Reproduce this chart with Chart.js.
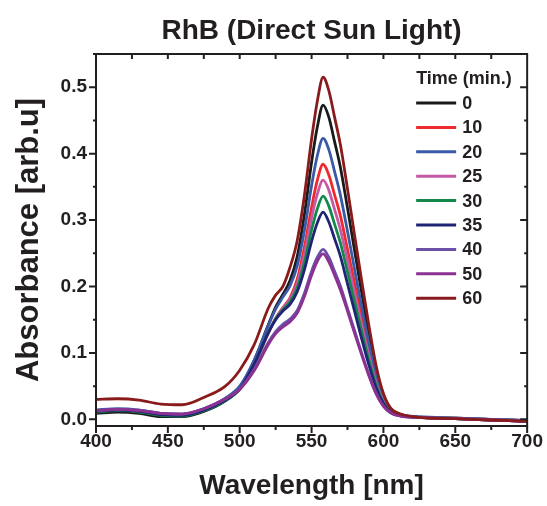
<!DOCTYPE html>
<html>
<head>
<meta charset="utf-8">
<title>RhB (Direct Sun Light)</title>
<script src="https://cdn.jsdelivr.net/npm/chart.js@4.4.1/dist/chart.umd.min.js"></script>
<style>
  html, body { margin: 0; padding: 0; background: #fff; }
  #wrap { width: 547px; height: 506px; }
</style>
</head>
<body>
<div id="wrap"><canvas id="absChart" width="547" height="506"></canvas></div>
<script>
// wavelength grid (nm) shared by every spectrum
const wavelength = [400, 415, 430, 445, 460, 475, 490, 500, 510, 520, 525, 530, 535, 540, 545, 550, 554, 558, 562, 566, 570, 575, 580, 585, 590, 595, 600, 605, 612, 625, 650, 675, 700];

// irradiation times (min.)
const times = ['0', '10', '20', '25', '30', '35', '40', '50', '60'];

// absorbance spectra, one per irradiation time
const abs0  = [0.009, 0.011, 0.009, 0.004, 0.004, 0.012, 0.028, 0.047, 0.088, 0.143, 0.169, 0.188, 0.209, 0.245, 0.308, 0.387, 0.440, 0.473, 0.455, 0.418, 0.380, 0.318, 0.253, 0.189, 0.126, 0.072, 0.035, 0.016, 0.007, 0.003, 0.001, -0.001, -0.003];
const abs10 = [0.012, 0.014, 0.012, 0.007, 0.007, 0.015, 0.030, 0.047, 0.082, 0.130, 0.152, 0.168, 0.183, 0.211, 0.259, 0.319, 0.360, 0.384, 0.368, 0.338, 0.307, 0.256, 0.204, 0.152, 0.102, 0.058, 0.029, 0.014, 0.007, 0.003, 0.002, 0.000, -0.002];
const abs20 = [0.014, 0.016, 0.014, 0.009, 0.008, 0.016, 0.032, 0.050, 0.089, 0.142, 0.166, 0.184, 0.201, 0.231, 0.284, 0.352, 0.397, 0.423, 0.406, 0.373, 0.338, 0.283, 0.225, 0.168, 0.113, 0.064, 0.031, 0.014, 0.007, 0.004, 0.002, 0.000, -0.002];
const abs25 = [0.012, 0.014, 0.012, 0.008, 0.007, 0.015, 0.030, 0.046, 0.083, 0.131, 0.152, 0.167, 0.181, 0.205, 0.248, 0.303, 0.339, 0.360, 0.345, 0.316, 0.286, 0.239, 0.190, 0.141, 0.095, 0.054, 0.027, 0.013, 0.006, 0.003, 0.001, -0.001, -0.003];
const abs30 = [0.011, 0.013, 0.011, 0.006, 0.005, 0.013, 0.028, 0.045, 0.082, 0.131, 0.151, 0.165, 0.177, 0.198, 0.236, 0.285, 0.317, 0.336, 0.321, 0.294, 0.266, 0.222, 0.176, 0.131, 0.088, 0.051, 0.025, 0.012, 0.006, 0.003, 0.002, 0.000, -0.002];
const abs35 = [0.012, 0.014, 0.012, 0.007, 0.006, 0.014, 0.029, 0.046, 0.083, 0.131, 0.150, 0.163, 0.173, 0.192, 0.225, 0.268, 0.296, 0.312, 0.297, 0.272, 0.246, 0.204, 0.162, 0.120, 0.081, 0.047, 0.024, 0.011, 0.006, 0.003, 0.001, -0.001, -0.003];
const abs40 = [0.013, 0.015, 0.014, 0.009, 0.008, 0.016, 0.031, 0.046, 0.075, 0.116, 0.132, 0.143, 0.151, 0.164, 0.190, 0.223, 0.244, 0.256, 0.244, 0.223, 0.201, 0.167, 0.133, 0.099, 0.067, 0.039, 0.020, 0.010, 0.005, 0.003, 0.002, 0.000, -0.002];
const abs50 = [0.013, 0.015, 0.013, 0.009, 0.008, 0.016, 0.031, 0.045, 0.073, 0.113, 0.129, 0.139, 0.147, 0.160, 0.185, 0.217, 0.238, 0.249, 0.237, 0.217, 0.195, 0.163, 0.129, 0.096, 0.065, 0.038, 0.020, 0.010, 0.005, 0.003, 0.001, -0.001, -0.003];
const abs60 = [0.030, 0.031, 0.029, 0.023, 0.022, 0.033, 0.050, 0.074, 0.112, 0.168, 0.187, 0.200, 0.229, 0.269, 0.337, 0.422, 0.479, 0.515, 0.495, 0.455, 0.414, 0.347, 0.276, 0.207, 0.140, 0.080, 0.039, 0.017, 0.008, 0.003, 0.001, -0.001, -0.003];

const spectra = [abs0, abs10, abs20, abs25, abs30, abs35, abs40, abs50, abs60];
const colors = ['#1a1a1a', '#ee2a2e', '#3a5aa8', '#c45aa6', '#14884a', '#1f2474', '#6a50a6', '#8c3192', '#8a1b1c'];

// axis ticks
const xTicks = [400, 450, 500, 550, 600, 650, 700];
const yTicks = [0.0, 0.1, 0.2, 0.3, 0.4, 0.5];

const ink = '#231f20';
const family = '"Liberation Sans", Arial, Helvetica, sans-serif';

// box frame with tick marks (outward on left/bottom, inward on top/right)
const frameTicks = {
    id: 'frameTicks',
    afterDatasetsDraw(chart) {
        const { ctx, chartArea: a, scales: { x, y } } = chart;
        ctx.save();
        ctx.strokeStyle = ink;
        ctx.lineWidth = 2;
        ctx.strokeRect(a.left, a.top, a.right - a.left, a.bottom - a.top);
        ctx.beginPath();
        xTicks.forEach((v, i) => {
            const px = x.getPixelForValue(v);
            ctx.moveTo(px, a.bottom); ctx.lineTo(px, a.bottom + 7);
            if (i < xTicks.length - 1) {
                const pm = x.getPixelForValue((v + xTicks[i + 1]) / 2);
                ctx.moveTo(pm, a.bottom); ctx.lineTo(pm, a.bottom + 4);
                ctx.moveTo(pm, a.top); ctx.lineTo(pm, a.top + 5);
            }
            if (i > 0 && i < xTicks.length - 1) {
                ctx.moveTo(px, a.top); ctx.lineTo(px, a.top + 5);
            }
        });
        yTicks.forEach(v => {
            const py = y.getPixelForValue(v);
            ctx.moveTo(a.left, py); ctx.lineTo(a.left - 7, py);
            ctx.moveTo(a.right, py); ctx.lineTo(a.right - 7, py);
            const pm = y.getPixelForValue(v + 0.05);
            ctx.moveTo(a.left, pm); ctx.lineTo(a.left - 3, pm);
            ctx.moveTo(a.right, pm); ctx.lineTo(a.right - 3, pm);
        });
        ctx.stroke();
        ctx.restore();
    }
};

// legend inside the plot, upper right
const timeLegend = {
    id: 'timeLegend',
    afterDatasetsDraw(chart) {
        const { ctx, chartArea: a } = chart;
        const x0 = a.right - 111;
        ctx.save();
        ctx.fillStyle = ink;
        ctx.font = 'bold 18px ' + family;
        ctx.textBaseline = 'middle';
        ctx.fillText('Time (min.)', x0, a.top + 25);
        chart.data.datasets.forEach((ds, i) => {
            const ly = a.top + 49 + i * 24.4;
            ctx.strokeStyle = ds.borderColor;
            ctx.lineWidth = 3;
            ctx.beginPath();
            ctx.moveTo(x0, ly);
            ctx.lineTo(x0 + 40, ly);
            ctx.stroke();
            ctx.fillText(ds.label, x0 + 46, ly + 1);
        });
        ctx.restore();
    }
};

const ctx = document.getElementById('absChart').getContext('2d');
const chart = new Chart(ctx, {
    type: 'line',
    data: {
        datasets: spectra.map((vals, i) => ({
            label: times[i],
            data: vals.map((v, j) => ({ x: wavelength[j], y: v })),
            borderColor: colors[i],
            borderWidth: 2.8,
            pointRadius: 0,
            fill: false,
            cubicInterpolationMode: 'monotone',
            order: spectra.length - i
        }))
    },
    options: {
        responsive: false,
        animation: false,
        layout: { padding: { left: 0, right: 19, top: 0, bottom: 0 } },
        plugins: {
            legend: { display: false },
            tooltip: { enabled: false },
            title: {
                display: true,
                fullSize: false,
                text: 'RhB (Direct Sun Light)',
                color: ink,
                font: { family: family, size: 28, weight: 'bold' },
                padding: { top: 14, bottom: 6.4 }
            }
        },
        scales: {
            x: {
                type: 'linear',
                min: 400,
                max: 700,
                afterBuildTicks: s => { s.ticks = xTicks.map(v => ({ value: v })); },
                afterFit: s => { s.height = 80; },
                grid: { display: false, drawTicks: false },
                border: { display: false },
                ticks: {
                    color: ink,
                    font: { family: family, size: 19, weight: 'bold' },
                    padding: 4,
                    maxRotation: 0
                },
                title: {
                    display: true,
                    text: 'Wavelength [nm]',
                    color: ink,
                    font: { family: family, size: 28, weight: 'bold' },
                    padding: { top: 0, bottom: 3 }
                }
            },
            y: {
                type: 'linear',
                min: -0.01,
                max: 0.55,
                afterBuildTicks: s => { s.ticks = yTicks.map(v => ({ value: v })); },
                afterFit: s => { s.width = 96; },
                grid: { display: false, drawTicks: false },
                border: { display: false },
                ticks: {
                    color: ink,
                    font: { family: family, size: 19, weight: 'bold' },
                    padding: 9,
                    callback: v => v.toFixed(1)
                },
                title: {
                    display: true,
                    text: 'Absorbance [arb.u]',
                    color: ink,
                    font: { family: family, size: 31, weight: 'bold' },
                    padding: { top: 11, bottom: 0 }
                }
            }
        }
    },
    plugins: [frameTicks, timeLegend]
});
</script>
</body>
</html>
